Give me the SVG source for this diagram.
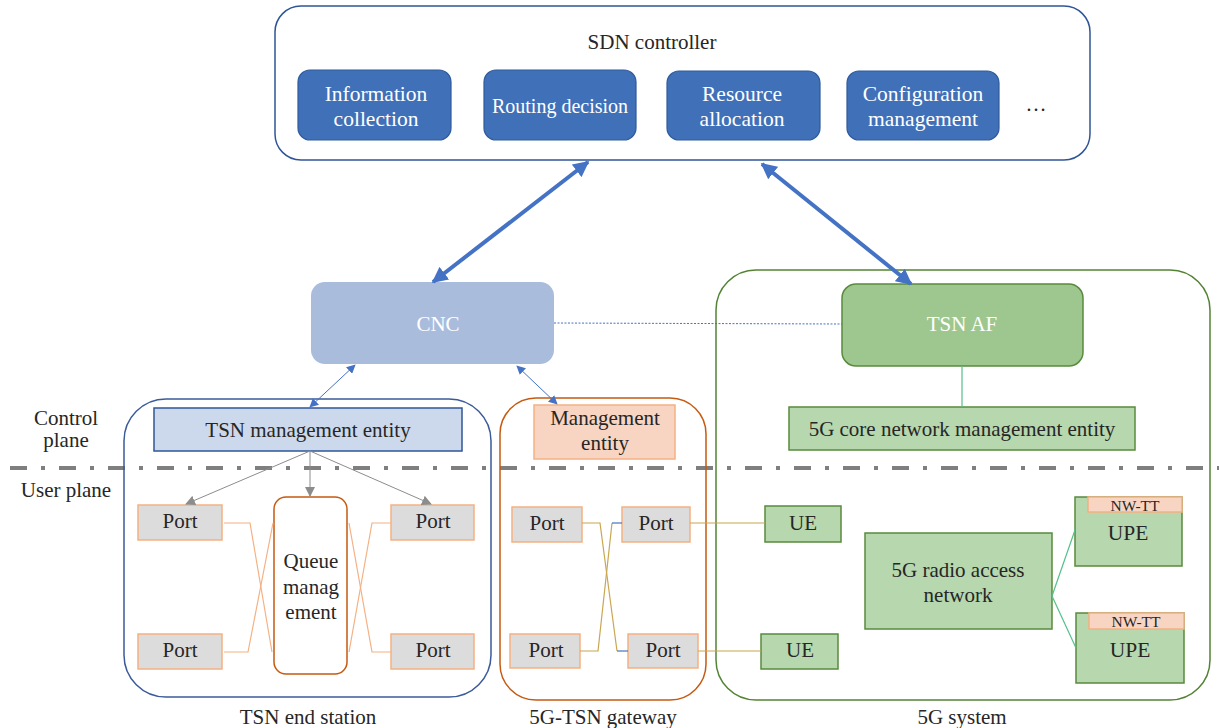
<svg xmlns="http://www.w3.org/2000/svg" width="1219" height="728" viewBox="0 0 1219 728" font-family="'Liberation Serif', serif">
  <defs>
    <style>
      text { font-family: 'Liberation Serif', 'Times New Roman', serif; fill: #262626; text-anchor: middle; dominant-baseline: central; }
      .t19 { font-size: 21px; }
      .t20 { font-size: 21.5px; }
      .small { font-size: 15.5px; }
      .white { fill: #ffffff; }
      .func { fill: #3F70B8; stroke: #2F5A9C; stroke-width: 1.2; }
      .port { fill: #DCDCDC; stroke: #F4B183; stroke-width: 1.5; }
      .g5 { fill: #B7D7AE; stroke: #5A8A3E; stroke-width: 1.5; }
      .nwtt { fill: #F8D5C3; stroke: #F4B183; stroke-width: 1.5; }
      .orange-link { fill: none; stroke: #F4B183; stroke-width: 1.2; }
      .gold-link { fill: none; stroke: #C9A650; stroke-width: 1.2; }
      .green-link { fill: none; stroke: #55C08C; stroke-width: 1.2; }
    </style>
    <marker id="bigHead" viewBox="0 0 10 10" refX="9" refY="5" markerWidth="4" markerHeight="4" orient="auto-start-reverse" markerUnits="strokeWidth">
      <path d="M0,0 L10,5 L0,10 z" fill="#4472C4"/>
    </marker>
    <marker id="smallHead" viewBox="0 0 10 10" refX="9" refY="5" markerWidth="9" markerHeight="9" orient="auto-start-reverse" markerUnits="strokeWidth">
      <path d="M0,0 L10,5 L0,10 z" fill="#4472C4"/>
    </marker>
    <marker id="grayHead" viewBox="0 0 10 10" refX="9" refY="5" markerWidth="10" markerHeight="10" orient="auto" markerUnits="strokeWidth">
      <path d="M0,0 L10,5 L0,10 z" fill="#8C8C8C"/>
    </marker>
  </defs>

  <rect width="1219" height="728" fill="#ffffff"/>

  <!-- plane separator -->
  <line x1="10" y1="468" x2="1219" y2="468" stroke="#7F7F7F" stroke-width="4" stroke-dasharray="17 14 4 14"/>
  <text class="t19" x="66" y="418">Control</text>
  <text class="t19" x="66" y="440">plane</text>
  <text class="t19" x="66" y="490">User plane</text>

  <!-- SDN controller -->
  <g id="sdn-controller">
    <rect x="275" y="6" width="815" height="154" rx="26" fill="#ffffff" stroke="#2F5597" stroke-width="1.5"/>
    <text class="t19" x="652" y="42">SDN controller</text>
  </g>
  <g id="info-collection">
    <rect class="func" x="298" y="70" width="153" height="70" rx="12"/>
    <text class="t20 white" x="376" y="94">Information</text>
    <text class="t20 white" x="376" y="119">collection</text>
  </g>
  <g id="routing-decision">
    <rect class="func" x="484" y="70" width="152" height="70" rx="12"/>
    <text class="white" font-size="20" x="560" y="106">Routing decision</text>
  </g>
  <g id="resource-allocation">
    <rect class="func" x="667" y="71" width="153" height="69" rx="12"/>
    <text class="t20 white" x="742" y="94">Resource</text>
    <text class="t20 white" x="742" y="119">allocation</text>
  </g>
  <g id="config-management">
    <rect class="func" x="847" y="71" width="152" height="69" rx="12"/>
    <text class="t20 white" x="923" y="94">Configuration</text>
    <text class="t20 white" x="923" y="119">management</text>
  </g>
  <text class="t19" x="1036" y="104">…</text>

  <!-- 5G system container -->
  <g id="g5-system">
    <rect x="716" y="270" width="494" height="430" rx="40" fill="none" stroke="#548235" stroke-width="1.5"/>
    <text class="t19" x="962" y="717">5G system</text>
  </g>

  <!-- TSN end station container -->
  <g id="tsn-end-station">
    <rect x="124" y="399" width="367" height="298" rx="42" fill="none" stroke="#3B5A9A" stroke-width="1.5"/>
    <text class="t19" x="308" y="717">TSN end station</text>
  </g>

  <!-- 5G-TSN gateway container -->
  <g id="tsn-gateway">
    <rect x="500" y="398" width="206" height="302" rx="36" fill="none" stroke="#C55A11" stroke-width="1.5"/>
    <text class="t19" x="603" y="717">5G-TSN gateway</text>
  </g>

  <!-- control plane nodes -->
  <g id="cnc">
    <rect x="311" y="282" width="243" height="82" rx="14" fill="#A9BCDC"/>
    <text class="t19 white" x="438" y="324">CNC</text>
  </g>
  <g id="tsn-af">
    <rect x="842" y="284" width="241" height="82" rx="14" fill="#9DC78E" stroke="#5A8A3E" stroke-width="1.5"/>
    <text class="t19 white" x="962" y="324">TSN AF</text>
  </g>
  <g id="core-mgmt">
    <rect class="g5" x="789" y="407" width="346" height="43"/>
    <text class="t19" x="962" y="429">5G core network management entity</text>
  </g>
  <g id="tsn-mgmt">
    <rect x="154" y="408" width="308" height="43" fill="#CCD9EC" stroke="#2F5597" stroke-width="1.5"/>
    <text class="t19" x="308" y="430">TSN management entity</text>
  </g>
  <g id="gw-mgmt">
    <rect x="534" y="405" width="141" height="54" fill="#F8D5C3" stroke="#F4B183" stroke-width="1.5"/>
    <text class="t19" x="605" y="418">Management</text>
    <text class="t19" x="605" y="443">entity</text>
  </g>

  <!-- end station user plane -->
  <g id="es-port-tl"><rect class="port" x="138" y="505" width="84" height="35"/><text class="t19" x="180" y="521">Port</text></g>
  <g id="es-port-bl"><rect class="port" x="138" y="634" width="84" height="35"/><text class="t19" x="180" y="650">Port</text></g>
  <g id="es-port-tr"><rect class="port" x="391" y="505" width="83" height="35"/><text class="t19" x="433" y="521">Port</text></g>
  <g id="es-port-br"><rect class="port" x="391" y="634" width="83" height="35"/><text class="t19" x="433" y="650">Port</text></g>
  <g id="queue-mgmt">
    <rect x="274" y="497" width="73" height="177" rx="12" fill="#ffffff" stroke="#C55A11" stroke-width="1.5"/>
    <text class="t19" x="311" y="561">Queue</text>
    <text class="t19" x="311" y="587">manag</text>
    <text class="t19" x="311" y="612">ement</text>
  </g>

  <!-- gateway user plane -->
  <g id="gw-port-tl"><rect class="port" x="512" y="507" width="70" height="35"/><text class="t19" x="547" y="523">Port</text></g>
  <g id="gw-port-tr"><rect class="port" x="622" y="507" width="68" height="35"/><text class="t19" x="656" y="523">Port</text></g>
  <g id="gw-port-bl"><rect class="port" x="510" y="634" width="70" height="34"/><text class="t19" x="546" y="650">Port</text></g>
  <g id="gw-port-br"><rect class="port" x="628" y="634" width="70" height="34"/><text class="t19" x="663" y="650">Port</text></g>

  <!-- 5G user plane -->
  <g id="ue-top"><rect class="g5" x="765" y="506" width="76" height="36"/><text class="t19" x="803" y="523">UE</text></g>
  <g id="ue-bottom"><rect class="g5" x="761" y="634" width="77" height="35"/><text class="t19" x="800" y="650">UE</text></g>
  <g id="ran">
    <rect class="g5" x="865" y="533" width="187" height="96"/>
    <text class="t19" x="958" y="570">5G radio access</text>
    <text class="t19" x="958" y="595">network</text>
  </g>
  <g id="upe-top">
    <rect class="g5" x="1075" y="497" width="107" height="69"/>
    <rect class="nwtt" x="1088" y="497" width="94" height="15"/>
    <text class="small" x="1135" y="505">NW-TT</text>
    <text class="t20" x="1128" y="533">UPE</text>
  </g>
  <g id="upe-bottom">
    <rect class="g5" x="1076" y="613" width="108" height="70"/>
    <rect class="nwtt" x="1089" y="613" width="95" height="16"/>
    <text class="small" x="1136" y="621">NW-TT</text>
    <text class="t20" x="1130" y="650">UPE</text>
  </g>

  <!-- connectors -->
  <g id="connectors">
    <line x1="588" y1="162" x2="433" y2="282" stroke="#4472C4" stroke-width="4" marker-start="url(#bigHead)" marker-end="url(#bigHead)"/>
    <line x1="762" y1="164" x2="911" y2="284" stroke="#4472C4" stroke-width="4" marker-start="url(#bigHead)" marker-end="url(#bigHead)"/>
    <line x1="554" y1="323" x2="842" y2="324" stroke="#4472C4" stroke-width="1" stroke-dasharray="2 1.5"/>
    <line x1="962" y1="366" x2="962" y2="407" stroke="#55C08C" stroke-width="1.2"/>
    <line x1="355" y1="365" x2="310" y2="407" stroke="#4472C4" stroke-width="1" marker-start="url(#smallHead)" marker-end="url(#smallHead)"/>
    <line x1="517" y1="366" x2="557" y2="404" stroke="#4472C4" stroke-width="1" marker-start="url(#smallHead)" marker-end="url(#smallHead)"/>

    <line x1="310" y1="451" x2="186" y2="504" stroke="#8C8C8C" stroke-width="1" marker-end="url(#grayHead)"/>
    <line x1="310" y1="451" x2="310" y2="496" stroke="#8C8C8C" stroke-width="1" marker-end="url(#grayHead)"/>
    <line x1="310" y1="451" x2="431" y2="504" stroke="#8C8C8C" stroke-width="1" marker-end="url(#grayHead)"/>

    <polyline class="orange-link" points="224,523 250,523 272,652"/>
    <polyline class="orange-link" points="224,652 248,652 273,523"/>
    <polyline class="orange-link" points="349,523 372,652 391,652"/>
    <polyline class="orange-link" points="349,652 372,523 391,523"/>

    <polyline class="gold-link" points="582,523 600,523 617,651"/>
    <polyline class="gold-link" points="580,651 598,651 612,523"/>
    <line x1="617" y1="651" x2="628" y2="651" stroke="#4472C4" stroke-width="1.2"/>
    <line x1="612" y1="523" x2="622" y2="523" stroke="#4472C4" stroke-width="1.2"/>
    <line class="gold-link" x1="690" y1="523" x2="765" y2="523"/>
    <line class="gold-link" x1="698" y1="651" x2="761" y2="651"/>

    <line class="green-link" x1="1052" y1="596" x2="1075" y2="530"/>
    <line class="green-link" x1="1052" y1="596" x2="1076" y2="648"/>
  </g>
</svg>
